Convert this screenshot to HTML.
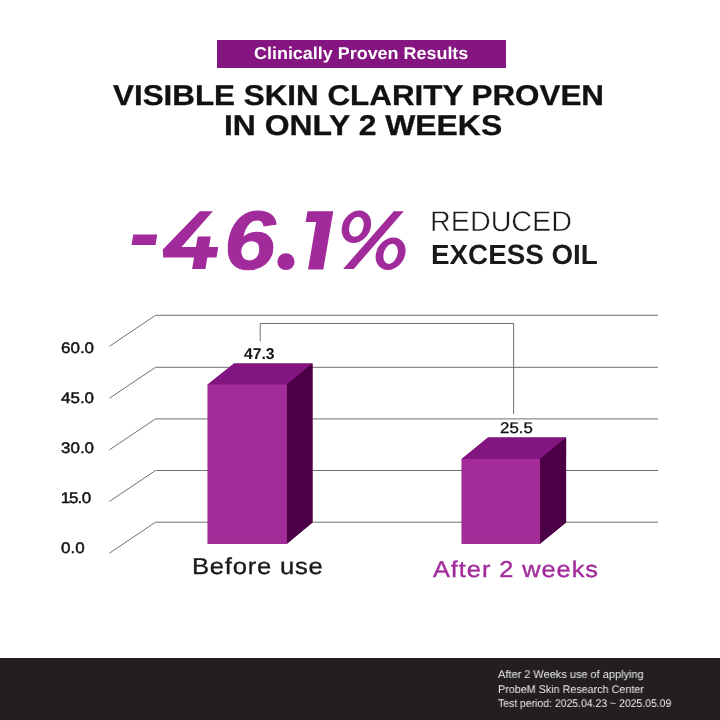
<!DOCTYPE html>
<html>
<head>
<meta charset="utf-8">
<style>
html,body{margin:0;padding:0;}
body{width:720px;height:720px;position:relative;overflow:hidden;background:#fff;font-family:"Liberation Sans",sans-serif;}
.t{position:absolute;white-space:nowrap;line-height:1;transform-origin:0 0;will-change:transform;text-rendering:geometricPrecision;}
#badge{position:absolute;left:217px;top:40px;width:289px;height:28px;background:#851580;}
#badgeT{left:253.85px;top:45px;font-size:17.15px;font-weight:bold;color:#fff;transform:scaleX(1.0464);}
#h1{left:113.20px;top:82px;font-size:28.6px;font-weight:bold;color:#111;-webkit-text-stroke:0.3px #111;transform:scaleX(1.0972);}
#h2{left:223.8px;top:112px;font-size:28.6px;font-weight:bold;color:#111;-webkit-text-stroke:0.3px #111;transform:scaleX(1.115);}
.big{top:199px;font-size:83px;font-weight:bold;font-style:italic;color:#a22b9b;-webkit-text-stroke:1px #a22b9b;}
#red{left:429.68px;top:208px;font-size:28.5px;color:#1a1a1a;-webkit-text-stroke:0.5px #fff;transform:scaleX(1.0076);}
#exc{left:431.04px;top:241px;font-size:27.8px;font-weight:bold;color:#1a1a1a;transform:scaleX(0.9988);}
.ax{font-size:15.3px;color:#111;left:61.4px;-webkit-text-stroke:0.45px #111;transform:scaleX(1.11);}
#v1{left:244.33px;top:347px;font-size:15.7px;font-weight:bold;color:#111;transform:scaleX(0.9892);}
#v2{left:500.22px;top:421px;font-size:15.4px;color:#111;-webkit-text-stroke:0.3px #111;transform:scaleX(1.0953);}
#l1{left:192.20px;top:555px;font-size:23px;color:#1a1a1a;-webkit-text-stroke:0.35px #1a1a1a;letter-spacing:0.7px;transform:scaleX(1.1130);}
#l2{left:432.59px;top:558px;font-size:22.9px;color:#a22b9b;-webkit-text-stroke:0.35px #a22b9b;letter-spacing:0.87px;transform:scaleX(1.1061);}
#foot{position:absolute;left:0;top:658px;width:720px;height:62px;background:#231f20;}
.f{font-size:11.2px;color:#ececec;left:498.3px;}
svg{position:absolute;left:0;top:0;}
</style>
</head>
<body>
<div id="badge"></div>
<span class="t" id="badgeT">Clinically Proven Results</span>
<span class="t" id="h1">VISIBLE SKIN CLARITY PROVEN</span>
<span class="t" id="h2">IN ONLY 2 WEEKS</span>
<span class="t big" style="left:224.4px;transform:scaleX(1.118)">6</span>
<svg width="720" height="720" viewBox="0 0 720 720">
 <g fill="#a22b9b">
 <polygon points="133.3,234.4 157.3,234.4 155.5,245 131.5,245"/>
 <!-- 4 -->
 <polygon points="199.8,211.3 212.9,211.3 181.5,246.9 218.3,246.9 216.5,257.4 163.2,257.4 162.8,249.5"/>
 <polygon points="197.7,236.5 210.8,236.5 205.4,269 192.1,269"/>
 <!-- . -->
 <ellipse cx="285.95" cy="261.7" rx="8.65" ry="8.4"/>
 <!-- 1 -->
 <polygon points="307.5,211.2 333.3,211.2 323.3,269.5 308,269.5 316.1,222 305.6,222"/>
 <!-- % -->
 <polygon points="393.75,211.25 403.75,211.25 353.75,269 343.1,269"/>
 <g transform="translate(356.4,226.85) skewX(-10)"><path fill-rule="evenodd" d="M-14.5,0a14.5,16.25 0 1,0 29,0a14.5,16.25 0 1,0 -29,0ZM-7.16,0a7.16,10 0 1,0 14.32,0a7.16,10 0 1,0 -14.32,0Z"/></g>
 <g transform="translate(390.6,253.8) skewX(-10)"><path fill-rule="evenodd" d="M-14.7,0a14.7,16.25 0 1,0 29.4,0a14.7,16.25 0 1,0 -29.4,0ZM-7.0,0a7.0,10.1 0 1,0 14.0,0a7.0,10.1 0 1,0 -14.0,0Z"/></g>
 </g>
</svg>
<span class="t" id="red">REDUCED</span>
<span class="t" id="exc">EXCESS OIL</span>

<svg width="720" height="720" viewBox="0 0 720 720">
 <g fill="none" stroke="#707070" stroke-width="1">
  <polyline points="109.5,346.3 155.5,315.3 658,315.3"/>
  <polyline points="109.5,398.2 155.5,367.3 658,367.3"/>
  <polyline points="109.5,449.8 155.5,418.9 658,418.9"/>
  <polyline points="109.5,501.4 155.5,470.5 658,470.5"/>
  <polyline points="109.5,553.1 155.5,522.2 658,522.2"/>
  <polyline points="260.2,341.3 260.2,323.5 513.6,323.5 513.6,414"/>
 </g>
 <!-- bar 1 -->
 <polygon points="207.7,384.4 234,363.5 312.5,363.5 312.5,522.6 286.9,543.7 207.7,543.7" fill="#6a0f66"/>
 <polygon points="207.7,384.4 234,363.5 312.5,363.5 286.9,384.4" fill="#831580"/>
 <polygon points="286.9,384.4 312.5,363.5 312.5,522.6 286.9,543.7" fill="#4b0046"/>
 <rect x="207.7" y="384.4" width="79.2" height="159.3" fill="#a42c98"/>
 <!-- bar 2 -->
 <polygon points="461.7,458.9 488,437.5 566.1,437.5 566.1,522.4 540,543.7 461.7,543.7" fill="#6a0f66"/>
 <polygon points="461.7,458.9 488,437.5 566.1,437.5 540,458.9" fill="#831580"/>
 <polygon points="540,458.9 566.1,437.5 566.1,522.4 540,543.7" fill="#4b0046"/>
 <rect x="461.7" y="458.9" width="78.3" height="84.8" fill="#a42c98"/>
</svg>

<span class="t ax" style="top:341px">60.0</span>
<span class="t ax" style="top:391px">45.0</span>
<span class="t ax" style="top:441px">30.0</span>
<span class="t ax" style="top:491px"><span style="margin-left:-0.3px;margin-right:-1.0px">1</span><span style="margin-right:-0.8px">5</span><span style="margin-right:-0.6px">.</span>0</span>
<span class="t ax" style="top:541px">0.0</span>
<span class="t" id="v1">47.3</span>
<span class="t" id="v2">25.5</span>
<span class="t" id="l1">Before use</span>
<span class="t" id="l2">After 2 weeks</span>

<div id="foot"></div>
<span class="t f" style="top:670px;transform:scaleX(0.981)">After 2 Weeks use of applying</span>
<span class="t f" style="top:685px;left:497.8px;transform:scaleX(0.961)">ProbeM Skin Research Center</span>
<span class="t f" style="top:699px;transform:scaleX(0.933)">Test period: 2025.04.23 ~ 2025.05.09</span>
</body>
</html>
